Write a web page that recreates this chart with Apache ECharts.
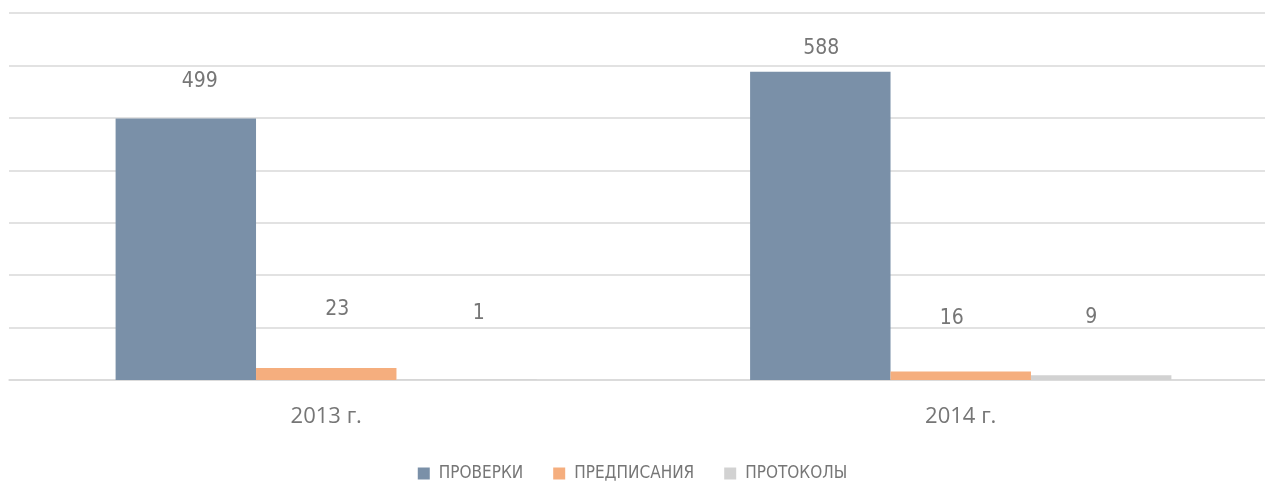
<!DOCTYPE html>
<html>
<head>
<meta charset="utf-8">
<script src="https://cdn.jsdelivr.net/npm/echarts@6/dist/echarts.min.js"></script>
<style>
  html, body { margin: 0; padding: 0; background: #fff; }
  #chart { width: 1265px; height: 482px; }
</style>
</head>
<body>
<div id="chart"></div>
<script>
var years = ['2013 г.', '2014 г.'];
var seriesNames = ['ПРОВЕРКИ', 'ПРЕДПИСАНИЯ', 'ПРОТОКОЛЫ'];
var checks = [499, 588];
var orders = [23, 16];
var protocols = [1, 9];

var colors = ['#7A90A8', '#F5AE7E', '#D2D2D2'];
var narrowFont = '"DejaVu Sans Condensed", "Liberation Sans Narrow", sans-serif';

// the labels in the original were dragged by hand, so each one gets its own shift
var labelShift = [
  [[14, -25], [1, -11]],
  [[11, -46], [-9, -41]],
  [[12, -54], [-10, -46]]
];

function makeData(values, s){
  return values.map(function(v, i){
    return { value: v, label: { offset: labelShift[s][i] } };
  });
}

var chart = echarts.init(document.getElementById('chart'), null, { renderer: 'canvas' });

var allValues = [checks, orders, protocols];
var series = [];
for (var s = 0; s < 3; s++) {
  series.push({
    name: seriesNames[s],
    type: 'bar',
    barGap: '0%',
    barCategoryGap: '33.6%',
    itemStyle: { color: colors[s] },
    label: {
      show: true,
      position: 'top',
      distance: 0,
      color: '#767676',
      fontFamily: narrowFont,
      fontSize: 21,
      lineHeight: 24
    },
    data: makeData(allValues[s], s)
  });
}

chart.setOption({
  animation: false,
  color: colors,
  // plot area runs a little past the right edge of the picture
  grid: { left: 9, top: 13, width: 1269, height: 367, outerBoundsMode: 'none' },
  legend: {
    top: 460,
    left: 'center',
    icon: 'rect',
    itemWidth: 12,
    itemHeight: 12,
    itemGap: 30,
    textStyle: {
      color: '#767676',
      fontFamily: narrowFont,
      fontSize: 17,
      padding: [0, 0, 0, 4]
    },
    data: seriesNames
  },
  xAxis: {
    type: 'category',
    data: years,
    axisTick: { show: false },
    axisLine: { lineStyle: { color: '#d9d9d9', width: 1.5 } },
    axisLabel: {
      color: '#767676',
      fontFamily: '"Open Sans", sans-serif',
      fontSize: 22,
      margin: 26
    }
  },
  yAxis: {
    type: 'value',
    min: 0,
    max: 700,
    interval: 100,
    axisLabel: { show: false },
    axisLine: { show: false },
    axisTick: { show: false },
    splitLine: { lineStyle: { color: '#d9d9d9', width: 1.5 } }
  },
  series: series
});
</script>
</body>
</html>
